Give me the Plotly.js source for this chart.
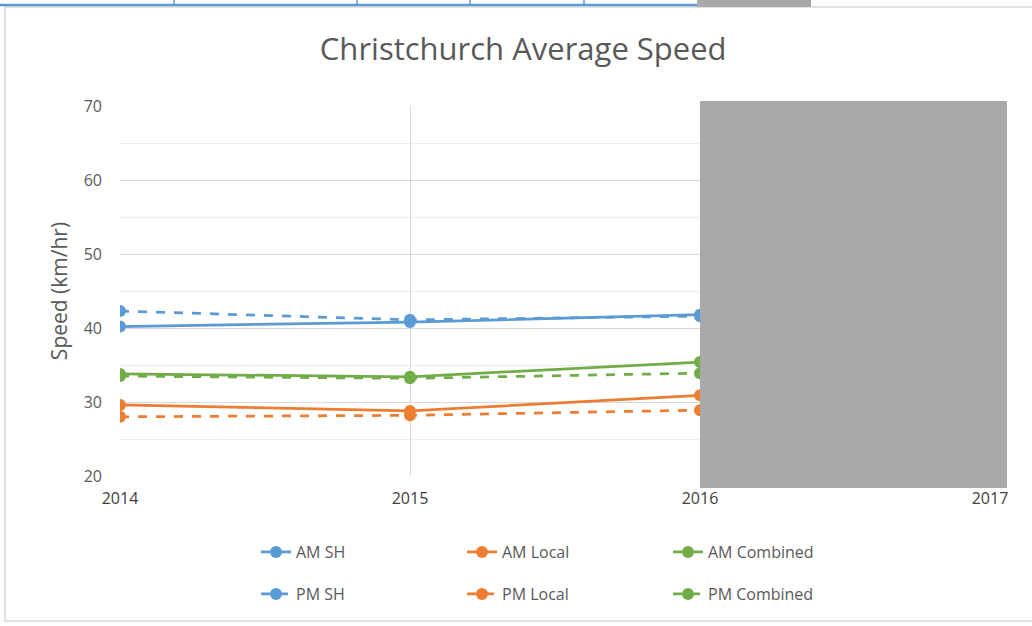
<!DOCTYPE html>
<html>
<head>
<meta charset="utf-8">
<script src="https://cdn.plot.ly/plotly-3.0.1.min.js"></script>
<style>html,body{margin:0;padding:0;background:#fff;}#chart{width:1032px;height:626px;}</style>
</head>
<body>
<div id="chart"></div>
<script>
const years = [2014, 2015, 2016];
const amSH = [40.2, 40.8, 41.8];
const pmSH = [42.3, 41.1, 41.6];
const amLocal = [29.6, 28.8, 30.9];
const pmLocal = [28.0, 28.2, 28.9];
const amCombined = [33.8, 33.4, 35.4];
const pmCombined = [33.5, 33.2, 33.9];
const xTicks = [2014, 2015, 2016, 2017];
const yTicks = [20, 30, 40, 50, 60, 70];

const blue = '#5b9bd5', orange = '#ed7d31', green = '#70ad47';
function tr(name, y, color, dash, legend) {
  return {x: years, y: y, name: name, type: 'scatter', mode: 'lines+markers',
    line: {color: color, width: 2.75, dash: dash}, marker: {color: color, size: 12},
    legend: legend};
}
const data = [
  tr('AM SH', amSH, blue, 'solid', 'legend'),
  tr('AM Local', amLocal, orange, 'solid', 'legend'),
  tr('AM Combined', amCombined, green, 'solid', 'legend'),
  tr('PM SH', pmSH, blue, 'dash', 'legend2'),
  tr('PM Local', pmLocal, orange, 'dash', 'legend2'),
  tr('PM Combined', pmCombined, green, 'dash', 'legend2')
];
const W = 1032, H = 626, L = 120, R = 42, T = 106, B = 150;
const pw = W - L - R, ph = H - T - B;
const px = v => (v - L) / pw;
const py = v => (H - B - v) / ph;
const legFont = {family: 'Open Sans, sans-serif', size: 16, color: '#595959'};
const shapes = [
  {type: 'rect', xref: 'paper', yref: 'paper', x0: px(5), x1: px(1040), y0: py(621), y1: py(7),
   line: {color: '#d9d9d9', width: 1.5}, fillcolor: 'rgba(0,0,0,0)', layer: 'below'},
  {type: 'line', xref: 'paper', yref: 'paper', x0: px(0), x1: px(697), y0: py(5), y1: py(5),
   line: {color: '#5b9bd5', width: 2.5}},
  {type: 'rect', xref: 'paper', yref: 'paper', x0: px(697), x1: px(811), y0: py(7), y1: py(-2),
   line: {width: 0}, fillcolor: '#a9a9a9'},
  {type: 'rect', xref: 'paper', yref: 'paper', x0: px(700), x1: px(1007), y0: py(488), y1: py(101),
   line: {width: 0}, fillcolor: '#a9a9a9', layer: 'above'}
];
[174, 357, 470, 584].forEach(x => shapes.push({type: 'line', xref: 'paper', yref: 'paper',
  x0: px(x), x1: px(x), y0: py(0), y1: py(5), line: {color: '#5b9bd5', width: 1.5}}));

const layout = {
  width: W, height: H,
  margin: {l: L, r: R, t: T, b: B},
  paper_bgcolor: '#fff', plot_bgcolor: '#fff',
  font: {family: 'Open Sans, sans-serif', color: '#595959'},
  title: {text: 'Christchurch Average Speed', x: 0.507, xanchor: 'center', y: 0.922, yanchor: 'middle',
    font: {family: 'Open Sans, sans-serif', size: 31, color: '#595959'}},
  xaxis: {range: [2014, 2017], tickvals: xTicks, ticktext: xTicks.map(String),
    showgrid: true, gridcolor: '#d9d9d9', gridwidth: 1, zeroline: false, showline: false,
    ticks: '', tickfont: {family: 'Open Sans, sans-serif', size: 16, color: '#404040'}, ticklabelstandoff: 11},
  yaxis: {range: [20, 70], tickvals: yTicks, ticktext: yTicks.map(String),
    minor: {dtick: 5, showgrid: true, gridcolor: '#ececec', gridwidth: 1},
    showgrid: true, gridcolor: '#d9d9d9', gridwidth: 1, zeroline: false, showline: false,
    ticks: '', tickfont: {family: 'Open Sans, sans-serif', size: 16, color: '#595959'}, ticklabelstandoff: 17,
    title: {text: 'Speed (km/hr)', standoff: 10, font: {family: 'Open Sans, sans-serif', size: 21, color: '#595959'}}},
  legend: {orientation: 'h', x: px(256), xanchor: 'left', y: py(552), yanchor: 'middle',
    entrywidth: 161, entrywidthmode: 'pixels', font: legFont, bgcolor: 'rgba(0,0,0,0)'},
  legend2: {orientation: 'h', x: px(256), xanchor: 'left', y: py(594), yanchor: 'middle',
    entrywidth: 161, entrywidthmode: 'pixels', font: legFont, bgcolor: 'rgba(0,0,0,0)'},
  shapes: shapes,
  showlegend: true
};
Plotly.newPlot('chart', data, layout, {displayModeBar: false, staticPlot: true});
</script>
</body>
</html>
